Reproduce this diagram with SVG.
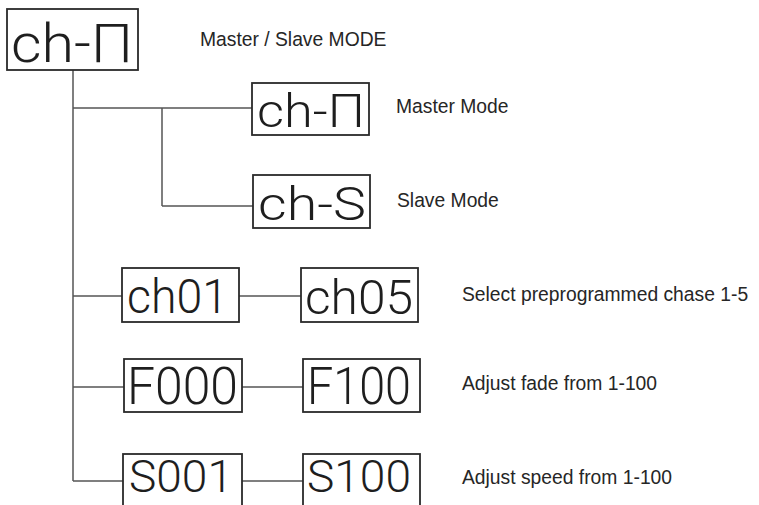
<svg xmlns="http://www.w3.org/2000/svg" width="759" height="505" viewBox="0 0 759 505">
<style>
.box{fill:#fff;stroke:#2a2a2a;stroke-width:1.8}
.lcd{font-family:Roboto,"DejaVu Sans",sans-serif;font-weight:300;fill:#1e1e1e}
.lbl{font-family:"Liberation Sans",Arial,sans-serif;font-size:19.3px;fill:#262626}
.conn line{stroke:#555;stroke-width:1.5}
</style>
<rect width="759" height="505" fill="#fff"/>
<g class="conn">
<line x1="73" y1="70" x2="73" y2="481"/>
<line x1="73" y1="108" x2="252" y2="108"/>
<line x1="162" y1="108" x2="162" y2="206"/>
<line x1="162" y1="206" x2="253" y2="206"/>
<line x1="73" y1="296" x2="122" y2="296"/>
<line x1="239" y1="296" x2="301" y2="296"/>
<line x1="73" y1="387" x2="124" y2="387"/>
<line x1="242" y1="387" x2="303" y2="387"/>
<line x1="73" y1="481" x2="123" y2="481"/>
<line x1="242" y1="481" x2="303" y2="481"/>
</g>
<g id="main">
<rect class="box" x="7" y="9" width="131" height="61"/>
<text class="lcd" x="11" y="62" font-size="54" textLength="122" lengthAdjust="spacingAndGlyphs">ch-Π</text>
<text class="lbl" x="200" y="46">Master / Slave MODE</text>
</g>
<g id="master">
<rect class="box" x="252" y="83" width="117" height="52"/>
<text class="lcd" x="257" y="127" font-size="47" textLength="108" lengthAdjust="spacingAndGlyphs">ch-Π</text>
<text class="lbl" x="396" y="113">Master Mode</text>
</g>
<g id="slave">
<rect class="box" x="253" y="175" width="117" height="53"/>
<text class="lcd" x="258" y="220" font-size="47" textLength="108" lengthAdjust="spacingAndGlyphs">ch-S</text>
<text class="lbl" x="397" y="207">Slave Mode</text>
</g>
<g id="ch01">
<rect class="box" x="122" y="268" width="117" height="54"/>
<text class="lcd" x="127" y="313" font-size="48" textLength="101" lengthAdjust="spacingAndGlyphs">ch01</text>
</g>
<g id="ch05">
<rect class="box" x="301" y="268" width="117" height="54"/>
<text class="lcd" x="305" y="314" font-size="48" textLength="108" lengthAdjust="spacingAndGlyphs">ch05</text>
<text class="lbl" x="462" y="301">Select preprogrammed chase 1-5</text>
</g>
<g id="f000">
<rect class="box" x="124" y="359" width="118" height="53"/>
<text class="lcd" x="127" y="404" font-size="52" textLength="111" lengthAdjust="spacingAndGlyphs">F000</text>
</g>
<g id="f100">
<rect class="box" x="303" y="359" width="117" height="53"/>
<text class="lcd" x="307" y="404" font-size="52" textLength="104" lengthAdjust="spacingAndGlyphs">F100</text>
<text class="lbl" x="462" y="390">Adjust fade from 1-100</text>
</g>
<g id="s001">
<rect class="box" x="123" y="454" width="119" height="60"/>
<text class="lcd" x="129" y="492" font-size="44" textLength="104" lengthAdjust="spacingAndGlyphs">S001</text>
</g>
<g id="s100">
<rect class="box" x="303" y="454" width="117" height="60"/>
<text class="lcd" x="307" y="492" font-size="44" textLength="104" lengthAdjust="spacingAndGlyphs">S100</text>
<text class="lbl" x="462" y="484">Adjust speed from 1-100</text>
</g>
</svg>
